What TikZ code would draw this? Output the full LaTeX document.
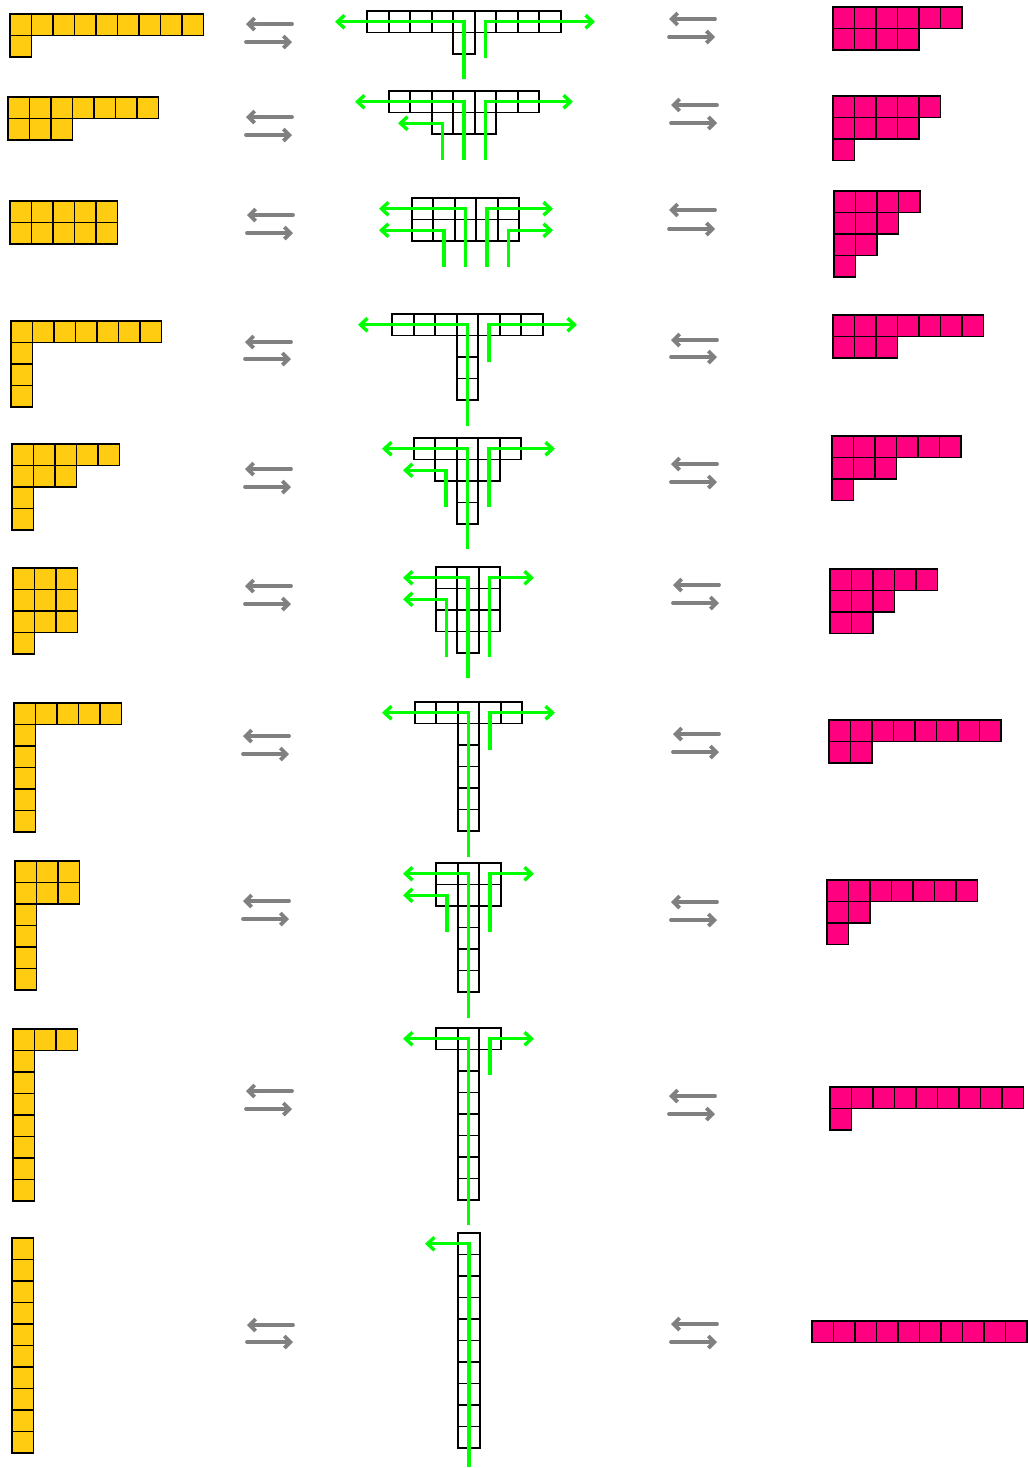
\documentclass[tikz,border=0pt]{standalone}
\usepackage{xcolor}
\usetikzlibrary{arrows.meta}

\definecolor{oddyellow}{RGB}{255,204,17}
\definecolor{distpink}{RGB}{255,0,128}
\definecolor{hookgreen}{RGB}{0,255,0}

\tikzset{
  ycell/.style={draw=black, fill=oddyellow, line width=1.8pt},
  pcell/.style={draw=black, fill=distpink, line width=1.8pt},
  wcell/.style={draw=black, line width=1.8pt},
  hookpath/.style={hookgreen, line width=3.4pt, -{Straight Barb[length=7pt,width=13pt]}},
  swaparrow/.style={gray, line width=3.8pt, line cap=round, -{Straight Barb[length=6pt,width=12pt]}},
}

% left-justified diagram: style, x, y, row lengths
\newcommand{\flushdiag}[4]{%
  \foreach \n [count=\r from 0] in {#4} {
    \foreach \c in {1,...,\n} {\draw[#1] ({#2+(\c-1)*21.5},{#3+\r*21.5}) rectangle ++(21.5,21.5);}
  }
}
% rows centred on an axis: style, axis x, y, row lengths
\newcommand{\centerdiag}[4]{%
  \foreach \n [count=\r from 0] in {#4} {
    \foreach \c in {1,...,\n} {\draw[#1] ({#2-\n*10.75+(\c-1)*21.5},{#3+\r*21.5}) rectangle ++(21.5,21.5);}
  }
}
% pair of opposite arrows: x, upper y, lower y
\newcommand{\swappair}[3]{%
  \draw[swaparrow] ({#1+46},#2) -- (#1,#2);
  \draw[swaparrow] (#1,#3) -- ({#1+46},#3);
}

\begin{document}
\begin{tikzpicture}[x=1pt,y=-1pt]
\useasboundingbox (0,0) rectangle (1028,1468);

% odd parts
\flushdiag{ycell}{10}{14}{9,1}
\flushdiag{ycell}{8}{97}{7,3}
\flushdiag{ycell}{10}{201}{5,5}
\flushdiag{ycell}{11}{321}{7,1,1,1}
\flushdiag{ycell}{12}{444}{5,3,1,1}
\flushdiag{ycell}{13}{568}{3,3,3,1}
\flushdiag{ycell}{14}{703}{5,1,1,1,1,1}
\flushdiag{ycell}{15}{861}{3,3,1,1,1,1}
\flushdiag{ycell}{13}{1029}{3,1,1,1,1,1,1,1}
\flushdiag{ycell}{12}{1238}{1,1,1,1,1,1,1,1,1,1}

% distinct parts
\flushdiag{pcell}{833}{7}{6,4}
\flushdiag{pcell}{833}{96}{5,4,1}
\flushdiag{pcell}{834}{191}{4,3,2,1}
\flushdiag{pcell}{833}{315}{7,3}
\flushdiag{pcell}{832}{436}{6,3,1}
\flushdiag{pcell}{830}{569}{5,3,2}
\flushdiag{pcell}{829}{720}{8,2}
\flushdiag{pcell}{827}{880}{7,2,1}
\flushdiag{pcell}{830}{1087}{9,1}
\flushdiag{pcell}{812}{1321}{10}

% centred diagrams
\centerdiag{wcell}{464}{11}{9,1}
\centerdiag{wcell}{464}{91}{7,3}
\centerdiag{wcell}{465.5}{198}{5,5}
\centerdiag{wcell}{467.5}{314}{7,1,1,1}
\centerdiag{wcell}{467.5}{438}{5,3,1,1}
\centerdiag{wcell}{468}{567}{3,3,3,1}
\centerdiag{wcell}{468.5}{702}{5,1,1,1,1,1}
\centerdiag{wcell}{468.5}{863}{3,3,1,1,1,1}
\centerdiag{wcell}{468.5}{1028}{3,1,1,1,1,1,1,1}
\centerdiag{wcell}{469}{1233}{1,1,1,1,1,1,1,1,1,1}

% hooks
\draw[hookpath] (464,79) |- (335,21.75);
\draw[hookpath] (485.5,58) |- (595,21.75);

\draw[hookpath] (464,160) |- (355,101.75);
\draw[hookpath] (485.5,160) |- (573,101.75);
\draw[hookpath] (442.5,160) |- (398,123.25);

\draw[hookpath] (465.5,267) |- (379,208.75);
\draw[hookpath] (487,267) |- (553,208.75);
\draw[hookpath] (444,267) |- (379,230.25);
\draw[hookpath] (508.5,267) |- (553,230.25);

\draw[hookpath] (467.5,426) |- (358,324.75);
\draw[hookpath] (489,362) |- (577,324.75);

\draw[hookpath] (467.5,549) |- (382,448.75);
\draw[hookpath] (489,507) |- (555,448.75);
\draw[hookpath] (446,507) |- (403,470.25);

\draw[hookpath] (468,678) |- (403,577.75);
\draw[hookpath] (489.5,657) |- (534,577.75);
\draw[hookpath] (446.5,657) |- (403,599.25);

\draw[hookpath] (468.5,857) |- (382,712.75);
\draw[hookpath] (490,750) |- (555,712.75);

\draw[hookpath] (468.5,1018) |- (403,873.75);
\draw[hookpath] (490,932) |- (534,873.75);
\draw[hookpath] (447,932) |- (403,895.25);

\draw[hookpath] (468.5,1225) |- (403,1038.75);
\draw[hookpath] (490,1075) |- (534,1038.75);

\draw[hookpath] (469,1467) |- (425,1243.75);

% arrows between columns
\swappair{246}{24}{42}
\swappair{246}{117}{135}
\swappair{247}{215}{233}
\swappair{245}{342}{359}
\swappair{245}{469}{487}
\swappair{245}{586}{604}
\swappair{243}{736}{754}
\swappair{243}{901}{919}
\swappair{246}{1091}{1109}
\swappair{247}{1325}{1342}

\swappair{669}{19}{37}
\swappair{671}{105}{123}
\swappair{669}{210}{229}
\swappair{671}{340}{357}
\swappair{671}{464}{482}
\swappair{673}{585}{603}
\swappair{673}{734}{752}
\swappair{671}{902}{920}
\swappair{669}{1096}{1114}
\swappair{671}{1324}{1342}
\end{tikzpicture}
\end{document}
